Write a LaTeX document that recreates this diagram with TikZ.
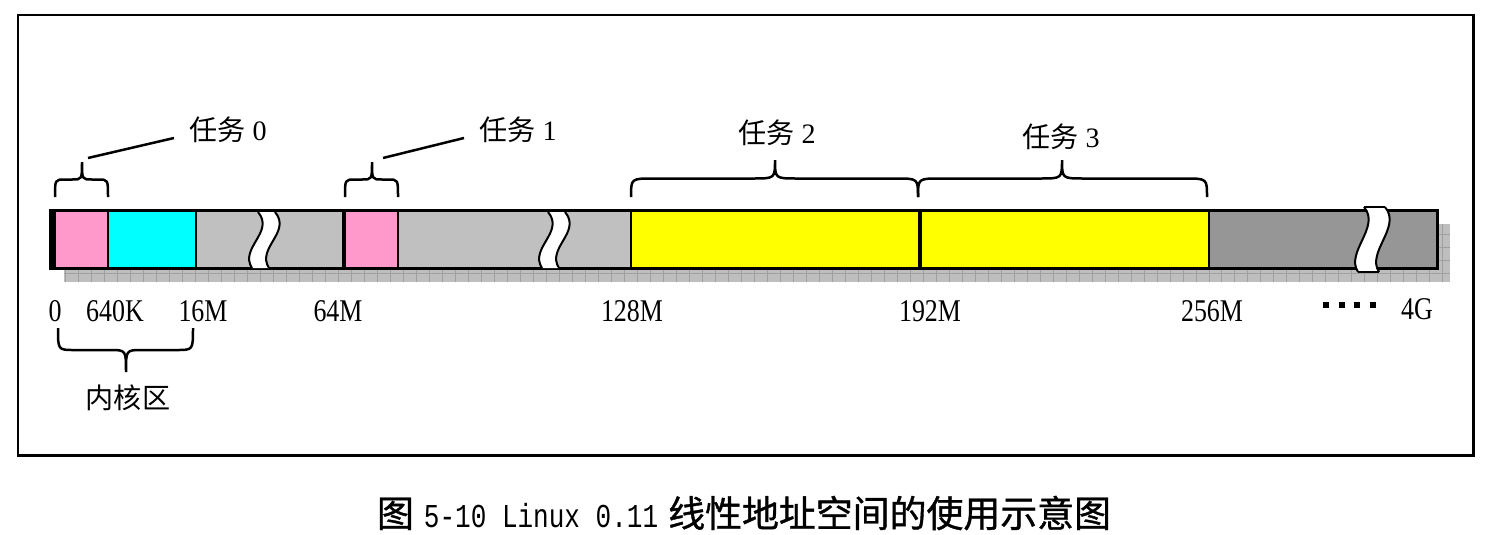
\documentclass[tikz,border=0pt]{standalone}
\usepackage{fontspec}
\setmainfont{Liberation Serif}
\setmonofont{Liberation Mono}
\newfontfamily\cjk{Noto Sans CJK SC}
\newfontfamily\cjkcap[FakeBold=1]{Noto Sans CJK SC}
\newfontfamily\capmono[FakeStretch=0.78]{Liberation Mono}
\newfontfamily\numfont[FakeStretch=0.82]{Liberation Serif}
\definecolor{memPink}{RGB}{255,153,204}
\definecolor{memCyan}{RGB}{0,255,255}
\definecolor{memLight}{RGB}{192,192,192}
\definecolor{memDark}{RGB}{150,150,150}
\definecolor{memYellow}{RGB}{255,255,0}
\definecolor{memShadow}{RGB}{190,190,190}
% white wavy gap in the bar: centre, top, bottom, width
\newcommand{\gapmark}[4]{%
  \fill [white] (#1-5,#2) .. controls (#1+12,#2+20) and (#1-24,#3-20) .. (#1-11,#3)
    -- (#1-11+#4,#3) .. controls (#1-24+#4,#3-20) and (#1+12+#4,#2+20) .. (#1-5+#4,#2) -- cycle;
  \draw [line width=0.04cm] (#1-5,#2) .. controls (#1+12,#2+20) and (#1-24,#3-20) .. (#1-11,#3);
  \draw [line width=0.04cm] (#1-11+#4,#3) .. controls (#1-24+#4,#3-20) and (#1+12+#4,#2+20) .. (#1-5+#4,#2);}
% curly brace: x1, x2, end y, tip x, tip y, corner
\newcommand{\memBrace}[6]{%
  \draw [line width=0.05cm] (#1,#3) .. controls (#1,{(#3+#5)/2}) .. (#1+#6,{(#3+#5)/2})
    -- (#4-#6,{(#3+#5)/2}) .. controls (#4,{(#3+#5)/2}) .. (#4,#5)
    .. controls (#4,{(#3+#5)/2}) .. (#4+#6,{(#3+#5)/2})
    -- (#2-#6,{(#3+#5)/2}) .. controls (#2,{(#3+#5)/2}) .. (#2,#3);}
\begin{document}
\begin{tikzpicture}[x=0.02cm,y=-0.02cm,
    seg/.style={line width=0.04cm},
    lbl/.style={inner sep=0pt,font=\fontsize{16}{18}\selectfont},
    addr/.style={inner sep=0pt,font=\numfont\fontsize{18}{20}\selectfont}]
  \useasboundingbox (0,0) rectangle (1490,534);

  % Drawing frame
  \draw [line width=0.06cm] (18,15) rectangle (1473,455);

  % Drawing shadow of the bar
  \fill [memShadow] (64,224) rectangle (1450,282);
  \draw [gray!75, line width=0.01cm, step=0.26cm] (64,224) grid (1450,282);

  % Drawing segments of the bar
  \fill [memPink] (50,210) rectangle (108,268);
  \fill [memCyan] (108,210) rectangle (196,268);
  \fill [memLight] (196,210) rectangle (344,268);
  \fill [memPink] (344,210) rectangle (398,268);
  \fill [memLight] (398,210) rectangle (631,268);
  \fill [memYellow] (631,210) rectangle (1209,268);
  \fill [memDark] (1209,210) rectangle (1437,268);

  % Drawing dividers
  \draw [line width=0.1cm] (53,210) -- (53,268);
  \draw [seg] (108,210) -- (108,268);
  \draw [seg] (196,210) -- (196,268);
  \draw [line width=0.08cm] (344,210) -- (344,268);
  \draw [seg] (398,210) -- (398,268);
  \draw [seg] (631,210) -- (631,268);
  \draw [line width=0.08cm] (919.5,210) -- (919.5,268);
  \draw [seg] (1209,210) -- (1209,268);
  \draw [line width=0.06cm] (50,210) rectangle (1437,268);

  % Drawing gaps
  \gapmark{263}{212}{268}{17}
  \gapmark{553}{212}{268}{17}
  \gapmark{1369}{207}{272}{21}
  \draw [line width=0.04cm] (1364,207) -- (1385,207);
  \draw [line width=0.04cm] (1358,272) -- (1379,272);

  % Drawing braces of the tasks
  \memBrace{55}{108}{197}{82}{162}{10}
  \memBrace{345}{398}{197}{372}{162}{10}
  \memBrace{631}{918}{197}{775}{160}{22}
  \memBrace{918}{1207}{197}{1062}{160}{22}
  \memBrace{58}{193}{328}{126}{372}{16}

  % Marking task labels
  \node [lbl] (task0) at (228,130) {{\cjk 任务}~0};
  \node [lbl] (task1) at (518,130) {{\cjk 任务}~1};
  \node [lbl] (task2) at (777,133) {{\cjk 任务}~2};
  \node [lbl] (task3) at (1061,137) {{\cjk 任务}~3};
  \node [lbl] (kernel) at (128,398) {\cjk 内核区};

  % Drawing leaders
  \coordinate (tip0) at (88,158);
  \coordinate (tip1) at (383,158);
  \draw [line width=0.05cm] (tip0) -- ([xshift=-0.3cm,yshift=-0.16cm]task0.west);
  \draw [line width=0.05cm] (tip1) -- ([xshift=-0.3cm,yshift=-0.16cm]task1.west);

  % Marking addresses
  \node [addr] (a0) at (55,311) {0};
  \node [addr] (a640k) at (115,311) {640K};
  \node [addr] (a16m) at (203,311) {16M};
  \node [addr] (a64m) at (338,311) {64M};
  \node [addr] (a128m) at (632,311) {128M};
  \node [addr] (a192m) at (930,311) {192M};
  \node [addr] (a256m) at (1212,311) {256M};
  \node [addr] (a4g) at (1417,309) {4G};
  \foreach \i in {0,...,3}
    \fill (1323+\i*15.5,302) rectangle ++(6,6);

  % Marking caption
  \node [inner sep=0pt] (caption) at (744,513)
    {{\cjkcap\fontsize{21}{24}\selectfont 图}\hspace{0.2cm}{\capmono\fontsize{19}{22}\selectfont 5-10 Linux 0.11}\hspace{0.2cm}{\cjkcap\fontsize{21}{24}\selectfont 线性地址空间的使用示意图}};
\end{tikzpicture}
\end{document}
